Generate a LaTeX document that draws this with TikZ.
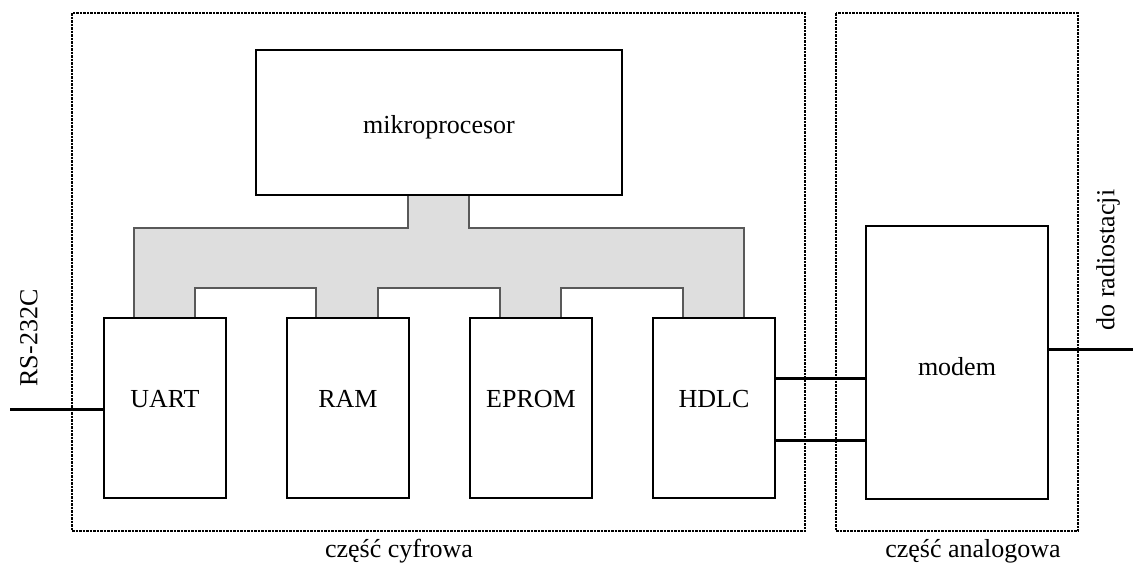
\documentclass[tikz,border=0pt]{standalone}
\usepackage{fontspec}
\setmainfont{Liberation Serif}
\begin{document}
\begin{tikzpicture}[x=1pt,y=-1pt,
  blk/.style={draw=black,line width=2.4pt,fill=white,inner sep=0pt},
  txt/.style={font=\fontsize{26}{30}\selectfont,inner sep=0pt,anchor=base},
  conn/.style={draw=black,line width=3pt},
  region/.style={draw=black,line width=2pt,dash pattern=on 2.5pt off 1pt},
  lbl/.style={font=\fontsize{26}{30}\selectfont,inner sep=0pt},
  bus/.style={fill=black!13,draw=black!65,line width=1.5pt}]
\useasboundingbox (0,0) rectangle (1133,563);
% regions
\draw[region] (72,13) rectangle (805,531);
\draw[region] (836,13) rectangle (1078,531);
% bus
\path[bus] (408,195) -- (408,228) -- (134,228) -- (134,318) -- (195,318) -- (195,288)
  -- (316,288) -- (316,318) -- (378,318) -- (378,288) -- (500,288) -- (500,318)
  -- (561,318) -- (561,288) -- (683,288) -- (683,318) -- (744,318) -- (744,228)
  -- (469,228) -- (469,195);
% blocks
\node[blk,minimum width=366pt,minimum height=145pt] (mp) at (439,122.5) {};
\node[blk,minimum width=122pt,minimum height=180pt] (uart) at (165,408) {};
\node[blk,minimum width=122pt,minimum height=180pt] (ram) at (348,408) {};
\node[blk,minimum width=122pt,minimum height=180pt] (eprom) at (531,408) {};
\node[blk,minimum width=122pt,minimum height=180pt] (hdlc) at (714,408) {};
\node[blk,minimum width=182pt,minimum height=273pt] (modem) at (957,362.5) {};
% block texts
\coordinate (bl1) at (0,133);
\coordinate (bl2) at (0,407);
\coordinate (bl3) at (0,375);
\node[txt] (mpT) at (mp.center |- bl1) {mikroprocesor};
\node[txt] (uartT) at (uart.center |- bl2) {UART};
\node[txt] (ramT) at (ram.center |- bl2) {RAM};
\node[txt] (epromT) at (eprom.center |- bl2) {EPROM};
\node[txt] (hdlcT) at (hdlc.center |- bl2) {HDLC};
\node[txt] (modemT) at (modem.center |- bl3) {modem};
% connectors
\coordinate (rsin) at (10,409);
\coordinate (radio) at (1133,349);
\coordinate (l1) at (0,378);
\coordinate (l2) at (0,440);
\draw[conn] (rsin) -- (uart.west |- rsin);
\draw[conn] (modem.east |- radio) -- (radio);
\draw[conn] (hdlc.east |- l1) -- (modem.west |- l1);
\draw[conn] (hdlc.east |- l2) -- (modem.west |- l2);
% labels
\node[lbl,rotate=90] (rs) at (29,338) {RS-232C};
\node[lbl,rotate=90] (rad) at (1108,260) {do radiostacji};
\node[txt] (cyf) at (399,557) {część cyfrowa};
\node[txt] (ana) at (973,557) {część analogowa};
\end{tikzpicture}
\end{document}
